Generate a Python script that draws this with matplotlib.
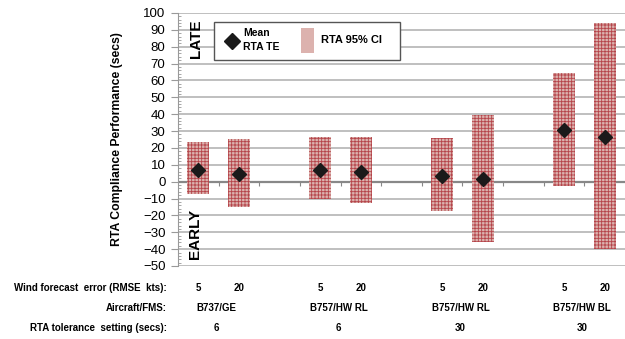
import matplotlib
matplotlib.use("Agg")
import matplotlib.pyplot as plt
from matplotlib.patches import Rectangle
from matplotlib.lines import Line2D
from matplotlib.ticker import MultipleLocator

plt.rcParams["font.family"] = ["Liberation Sans", "DejaVu Sans"]
plt.rcParams["hatch.linewidth"] = 0.6

# data
wind_err = ["5", "20", "5", "20", "5", "20", "5", "20"]
aircraft = ["B737/GE", "B757/HW RL", "B757/HW RL", "B757/HW BL"]
tolerance = ["6", "6", "30", "30"]
ci_high = [23.5, 25.1, 26.5, 26.5, 25.9, 39.5, 64.4, 93.9]
ci_low = [-7.3, -14.8, -10.4, -12.4, -17.2, -35.5, -2.3, -40.1]
mean_te = [7.0, 4.6, 7.0, 5.5, 3.4, 1.4, 30.6, 26.3]

W, H = 625, 339
fig = plt.figure(figsize=(W / 100, H / 100), dpi=100)


def fx(px):
    return px / W


def fy(py):
    return 1 - py / H


ax = fig.add_axes([fx(178), fy(266), fx(625) - fx(178), fy(13) - fy(266)])

# slot positions: pairs with an empty slot between groups
xs = [3 * (i // 2) + (i % 2) + 1 for i in range(len(mean_te))]
heights = [h - l for h, l in zip(ci_high, ci_low)]

ax.bar(xs, heights, bottom=ci_low, width=0.54, color="#dcb2ae", linewidth=0, zorder=2)
ax.bar(xs, heights, bottom=ci_low, width=0.54, facecolor="none",
       edgecolor="#b5444a", hatch="+++++", linewidth=0, zorder=3)
ax.plot(xs, mean_te, linestyle="none", marker="D", markersize=7,
        color="#1a1a1a", zorder=4)

ax.set_xlim(0.5, 11.5)
ax.set_ylim(-50, 100)
ax.yaxis.set_major_locator(MultipleLocator(10))
ax.yaxis.set_minor_locator(MultipleLocator(2))
ax.tick_params(axis="y", which="major", labelsize=9.5, length=5, color="#999999", pad=4)
ax.tick_params(axis="y", which="minor", length=2.5, color="#999999", direction="in")
for y in range(-50, 101, 10):
    if y != 0:
        ax.axhline(y, color="#b4b4b4", linewidth=1.2, zorder=1)
ax.axhline(0, color="#888888", linewidth=1.6, zorder=1)

ax.spines["left"].set_color("#999999")
ax.spines["right"].set_visible(False)
ax.spines["top"].set_visible(False)
ax.spines["bottom"].set_visible(False)
ax.set_xticks([k + 0.5 for k in range(1, 11)])
ax.set_xticklabels([])
ax.tick_params(axis="x", length=3, color="#888888", direction="out", pad=0)
# move the x ticks up to the zero line
for tl in ax.get_xticklines():
    tl.set_ydata([1 / 3])

ax.set_ylabel("RTA Compliance Performance (secs)", fontsize=8.8, fontweight="bold")
ax.yaxis.set_label_coords((123 - 178) / (625 - 178), 0.5)

fig.text(fx(196), fy(39), "LATE", rotation=90, ha="center", va="center",
         fontsize=11, fontweight="bold")
fig.text(fx(195), fy(234), "EARLY", rotation=90, ha="center", va="center",
         fontsize=11, fontweight="bold")

# legend drawn by hand to match the boxed layout
fig.patches.append(Rectangle((fx(214), fy(60)), fx(400) - fx(214), fy(22) - fy(60),
                             transform=fig.transFigure, facecolor="white",
                             edgecolor="#555555", linewidth=1, zorder=5))
fig.lines.append(Line2D([fx(232)], [fy(41)], marker="D", markersize=8,
                        color="#1a1a1a", transform=fig.transFigure, zorder=6))
fig.text(fx(243), fy(33), "Mean", fontsize=7.5, fontweight="bold", va="center", zorder=6)
fig.text(fx(243), fy(47), "RTA TE", fontsize=7.5, fontweight="bold", va="center", zorder=6)
fig.patches.append(Rectangle((fx(301), fy(53)), fx(314) - fx(301), fy(28) - fy(53),
                             transform=fig.transFigure, facecolor="#dcb2ae",
                             linewidth=0, zorder=6))
fig.text(fx(321), fy(40), "RTA 95% CI", fontsize=8, fontweight="bold", va="center", zorder=6)

# table under the chart
to_px = lambda x: 178 + (x - 0.5) * (625 - 178) / 11
row_y = [288, 308, 328]
row_lbl = ["Wind forecast  error (RMSE  kts):", "Aircraft/FMS:",
           "RTA tolerance  setting (secs):"]
for y, lbl in zip(row_y, row_lbl):
    fig.text(fx(167), fy(y), lbl, ha="right", va="center", fontsize=7, fontweight="bold")
for x, w in zip(xs, wind_err):
    fig.text(fx(to_px(x)), fy(row_y[0]), w, ha="center", va="center",
             fontsize=7, fontweight="bold")
for g in range(4):
    cx = to_px(3 * g + 1.5) - 2
    fig.text(fx(cx), fy(row_y[1]), aircraft[g], ha="center", va="center",
             fontsize=7, fontweight="bold")
    fig.text(fx(cx), fy(row_y[2]), tolerance[g], ha="center", va="center",
             fontsize=7, fontweight="bold")

fig.savefig("out.png", dpi=100)
